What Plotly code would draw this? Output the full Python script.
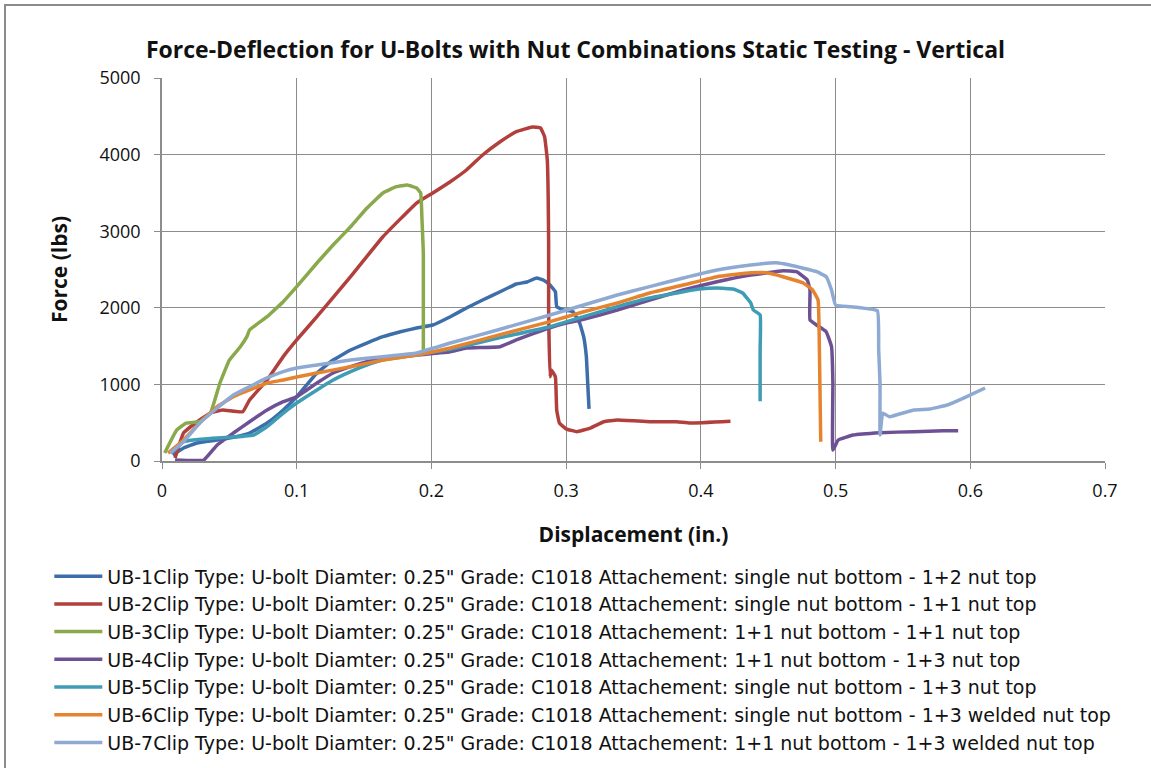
import plotly.graph_objects as go

# ---------------- data ----------------
ub1_x = [0.008, 0.016, 0.026, 0.041, 0.055, 0.065, 0.078, 0.090, 0.100, 0.115, 0.127, 0.140, 0.152, 0.164,
         0.177, 0.189, 0.201, 0.214, 0.226, 0.238, 0.251, 0.263, 0.271, 0.278, 0.283, 0.288, 0.292, 0.293,
         0.298, 0.305, 0.310, 0.313, 0.315, 0.316, 0.317]
ub1_y = [78, 170, 235, 274, 317, 365, 496, 666, 839, 1149, 1318, 1449, 1540, 1623,
         1688, 1736, 1775, 1884, 1997, 2102, 2210, 2311, 2337, 2389, 2363, 2298, 2210, 2015,
         1971, 1949, 1801, 1623, 1362, 1018, 680]

ub2_x = [0.0097, 0.016, 0.028, 0.036, 0.045, 0.060, 0.065, 0.078, 0.090, 0.100, 0.115, 0.140, 0.164, 0.189,
         0.201, 0.214, 0.226, 0.238, 0.251, 0.263, 0.275, 0.281, 0.284, 0.286, 0.287, 0.287, 0.288, 0.289,
         0.292, 0.293, 0.295, 0.300, 0.308, 0.318, 0.328, 0.338, 0.362, 0.382, 0.392, 0.422]
ub2_y = [39, 365, 535, 626, 666, 644, 796, 1057, 1362, 1580, 1884, 2406, 2928, 3368,
         3499, 3646, 3799, 3995, 4168, 4299, 4360, 4347, 4234, 3930, 2846, 1971, 1100, 1188,
         1100, 666, 496, 420, 383, 430, 513, 535, 513, 513, 496, 520]

ub3_x = [0.002, 0.011, 0.018, 0.028, 0.036, 0.043, 0.050, 0.058, 0.063, 0.065, 0.078, 0.082, 0.090, 0.100,
         0.115, 0.127, 0.140, 0.152, 0.164, 0.174, 0.182, 0.189, 0.192, 0.193, 0.194, 0.194]
ub3_y = [104, 405, 496, 513, 626, 1018, 1318, 1488, 1623, 1710, 1884, 1949, 2080, 2276,
         2585, 2820, 3059, 3300, 3499, 3581, 3603, 3564, 3499, 3146, 2715, 1449]

ub4_x = [0.0097, 0.031, 0.041, 0.053, 0.065, 0.078, 0.090, 0.100, 0.115, 0.127, 0.140, 0.152, 0.164, 0.189,
         0.214, 0.226, 0.251, 0.263, 0.275, 0.288, 0.300, 0.313, 0.338, 0.362, 0.387, 0.412, 0.437, 0.461,
         0.471, 0.479, 0.481, 0.481, 0.486, 0.493, 0.497, 0.498, 0.498, 0.502, 0.513, 0.533, 0.558, 0.580, 0.591]
ub4_y = [13, 13, 209, 365, 513, 666, 774, 839, 1018, 1149, 1231, 1296, 1345, 1384,
         1427, 1475, 1492, 1580, 1660, 1740, 1800, 1850, 1971, 2102, 2232, 2341, 2428, 2484,
         2471, 2363, 2232, 1841, 1775, 1688, 1492, 1018, 144, 274, 339, 370, 383, 396, 396]

ub5_x = [0.007, 0.016, 0.023, 0.041, 0.053, 0.068, 0.078, 0.090, 0.100, 0.115, 0.127, 0.140, 0.152, 0.164,
         0.189, 0.214, 0.251, 0.288, 0.313, 0.338, 0.362, 0.387, 0.399, 0.412, 0.424, 0.431, 0.437, 0.439,
         0.444, 0.444, 0.444]
ub5_y = [104, 252, 274, 300, 313, 339, 448, 626, 757, 927, 1057, 1166, 1253, 1318,
         1384, 1460, 1610, 1753, 1884, 2015, 2128, 2210, 2245, 2258, 2245, 2193, 2063, 1971,
         1906, 1449, 780]

ub6_x = [0.0045, 0.016, 0.028, 0.041, 0.053, 0.065, 0.078, 0.090, 0.100, 0.115, 0.140, 0.164, 0.189, 0.214,
         0.251, 0.288, 0.313, 0.338, 0.362, 0.387, 0.412, 0.437, 0.449, 0.461, 0.476, 0.483, 0.487, 0.488, 0.489]
ub6_y = [104, 274, 496, 709, 839, 927, 1018, 1057, 1097, 1149, 1231, 1318, 1384, 1475,
         1650, 1819, 1949, 2063, 2193, 2297, 2406, 2458, 2458, 2406, 2323, 2232, 2102, 1449, 252]

ub7_x = [0.006, 0.016, 0.028, 0.041, 0.053, 0.065, 0.078, 0.090, 0.100, 0.115, 0.140, 0.164, 0.189, 0.214,
         0.251, 0.288, 0.313, 0.338, 0.362, 0.387, 0.412, 0.437, 0.456, 0.466, 0.486, 0.493, 0.497, 0.500,
         0.511, 0.531, 0.532, 0.533, 0.533, 0.535, 0.540, 0.558, 0.570, 0.583, 0.595, 0.611]
ub7_y = [104, 252, 496, 692, 862, 970, 1084, 1166, 1214, 1253, 1318, 1362, 1410, 1540,
         1720, 1906, 2037, 2167, 2276, 2389, 2493, 2559, 2589, 2559, 2471, 2406, 2232, 2037,
         2015, 1962, 1449, 1018, 339, 626, 578, 666, 679, 731, 822, 953]

series_names = [
    'UB-1Clip Type: U-bolt Diamter: 0.25" Grade: C1018 Attachement: single nut bottom - 1+2 nut top',
    'UB-2Clip Type: U-bolt Diamter: 0.25" Grade: C1018 Attachement: single nut bottom - 1+1 nut top',
    'UB-3Clip Type: U-bolt Diamter: 0.25" Grade: C1018 Attachement: 1+1 nut bottom - 1+1 nut top',
    'UB-4Clip Type: U-bolt Diamter: 0.25" Grade: C1018 Attachement: 1+1 nut bottom - 1+3 nut top',
    'UB-5Clip Type: U-bolt Diamter: 0.25" Grade: C1018 Attachement: single nut bottom - 1+3 nut top',
    'UB-6Clip Type: U-bolt Diamter: 0.25" Grade: C1018 Attachement: single nut bottom - 1+3 welded nut top',
    'UB-7Clip Type: U-bolt Diamter: 0.25" Grade: C1018 Attachement: 1+1 nut bottom - 1+3 welded nut top',
]
series_x = [ub1_x, ub2_x, ub3_x, ub4_x, ub5_x, ub6_x, ub7_x]
series_y = [ub1_y, ub2_y, ub3_y, ub4_y, ub5_y, ub6_y, ub7_y]
colors = ["#3D6EAA", "#B1403D", "#89A94B", "#6E5194", "#3E9CB5", "#E5832F", "#8EAAD3"]

x_ticks = [0, 0.1, 0.2, 0.3, 0.4, 0.5, 0.6, 0.7]
x_tick_labels = ["0", "0.1", "0.2", "0.3", "0.4", "0.5", "0.6", "0.7"]
y_ticks = [0, 1000, 2000, 3000, 4000, 5000]

# ---------------- figure ----------------
fig = go.Figure()
for name, xs, ys, c in zip(series_names, series_x, series_y, colors):
    fig.add_trace(go.Scatter(x=xs, y=ys, mode="lines", name=name,
                             line=dict(color=c, width=3.5, shape="spline", smoothing=0.3)))

FONT = "Open Sans"
LEGEND_FONT = "DejaVu Sans"
grid = "#8C8C8C"
fig.update_layout(
    width=1151, height=768,
    paper_bgcolor="white", plot_bgcolor="white",
    margin=dict(l=162, r=46, t=78, b=307, autoexpand=False),
    title=dict(text="<b>Force-Deflection for U-Bolts with Nut Combinations Static Testing - Vertical</b>",
               x=0.5, xanchor="center", y=1 - 50 / 768, yanchor="middle",
               font=dict(family=FONT, size=23, color="#111111")),
    font=dict(family=FONT, color="#111111"),
    showlegend=True,
    legend=dict(x=-0.1195, y=-0.2516, xanchor="left", yanchor="top",
                font=dict(family=LEGEND_FONT, size=19, color="#111111"),
                bgcolor="rgba(0,0,0,0)", tracegroupgap=0, itemwidth=48),
    xaxis=dict(range=[0, 0.7], tickvals=x_ticks, ticktext=x_tick_labels,
               showgrid=True, gridcolor=grid, gridwidth=1,
               showline=True, linecolor=grid, linewidth=1.5,
               ticks="outside", ticklen=6, tickcolor=grid, ticklabelstandoff=7,
               tickfont=dict(family=FONT, size=18, color="#111111"),
               zeroline=False,
               title=dict(text="<b>Displacement (in.)</b>", standoff=26,
                          font=dict(family=FONT, size=21, color="#111111"))),
    yaxis=dict(range=[0, 5000], tickvals=y_ticks,
               showgrid=True, gridcolor=grid, gridwidth=1,
               showline=True, linecolor=grid, linewidth=1.5,
               ticks="outside", ticklen=6, tickcolor=grid, ticklabelstandoff=10,
               tickfont=dict(family=FONT, size=18, color="#111111"),
               zeroline=False,
               title=dict(text="<b>Force (lbs)</b>", standoff=26,
                          font=dict(family=FONT, size=21, color="#111111"))),
)

# chart-area border (left and top edges visible)
fig.add_shape(type="rect", xref="paper", yref="paper",
              x0=(5 - 162) / 943, x1=1.2, y0=-1.2, y1=(461 - 5) / 383,
              line=dict(color="#8C8C8C", width=2), layer="below")

fig.write_html("out.html", config={"displayModeBar": False},
               post_script="document.body.style.margin='0px';")
